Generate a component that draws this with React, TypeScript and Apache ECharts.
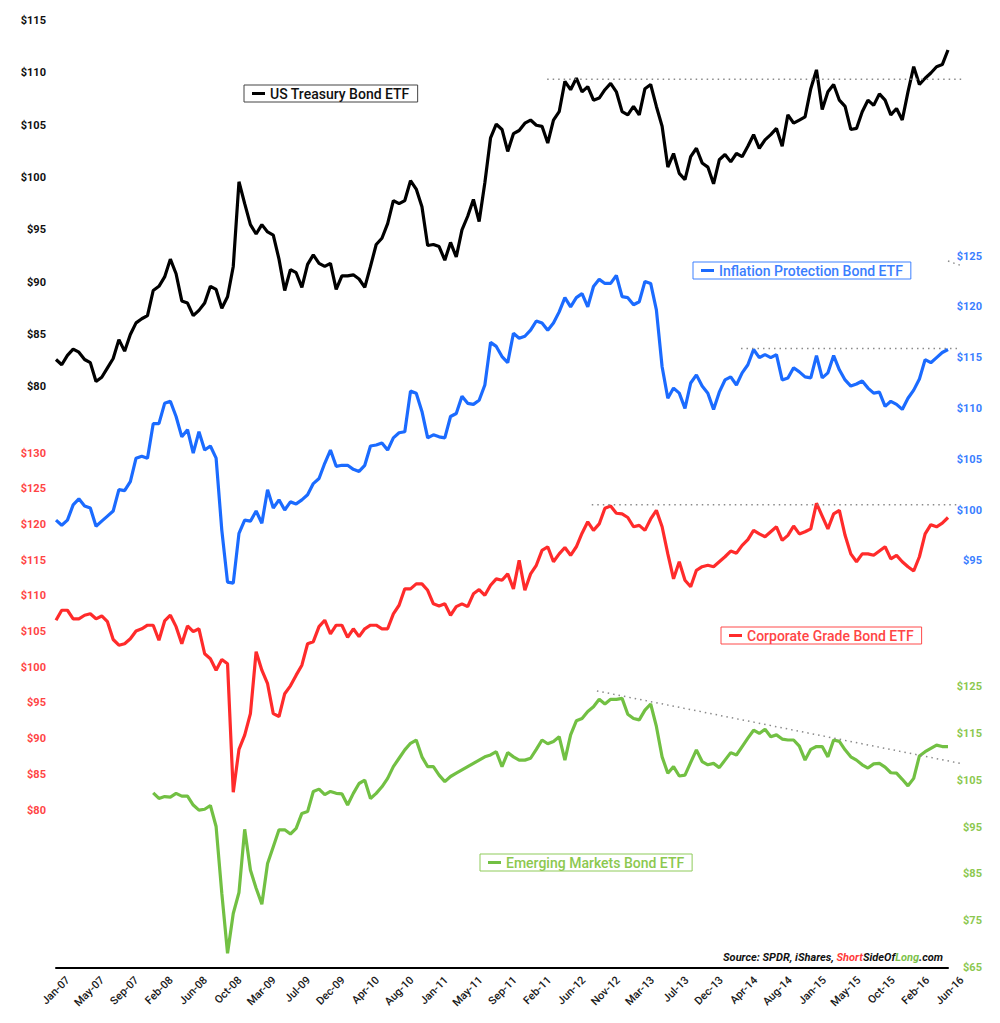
import React, { useEffect, useRef } from 'react';
import * as echarts from 'echarts';

const tickLabels = ['Jan-07','May-07','Sep-07','Feb-08','Jun-08','Oct-08','Mar-09','Jul-09','Dec-09','Apr-10','Aug-10','Jan-11','May-11','Sep-11','Feb-11','Jun-12','Nov-12','Mar-13','Jul-13','Dec-13','Apr-14','Aug-14','Jan-15','May-15','Oct-15','Feb-16','Jun-16'];

const treasury = [
  82.6, 82.1, 83.0, 83.6, 83.3, 82.6, 82.3, 80.5, 80.9, 81.8,
  82.7, 84.5, 83.4, 85.0, 86.1, 86.5, 86.8, 89.2, 89.6, 90.5,
  92.2, 90.8, 88.2, 88.0, 86.8, 87.3, 88.0, 89.6, 89.3, 87.5,
  88.6, 91.5, 99.6, 97.5, 95.5, 94.6, 95.5, 94.8, 94.5, 92.2,
  89.2, 91.2, 90.9, 89.5, 91.7, 92.6, 91.8, 91.5, 91.8, 89.3,
  90.6, 90.6, 90.7, 90.3, 89.5, 91.5, 93.6, 94.2, 95.6, 97.8,
  97.5, 97.8, 99.7, 98.9, 97.2, 93.5, 93.6, 93.4, 92.1, 93.8,
  92.4, 95.0, 96.3, 97.9, 95.8, 99.5, 103.8, 105.1, 104.6, 102.5,
  104.2, 104.5, 105.2, 105.5, 105.0, 104.9, 103.3, 105.5, 106.3, 109.2,
  108.4, 109.5, 108.2, 108.7, 107.4, 107.6, 108.4, 109.0, 108.2, 106.3,
  106.0, 106.8, 106.0, 108.5, 108.9, 106.8, 104.9, 101.0, 102.3, 100.4,
  99.8, 102.0, 102.8, 101.4, 101.0, 99.4, 101.7, 102.2, 101.5, 102.3,
  102.0, 103.0, 104.1, 102.8, 103.6, 104.1, 104.7, 103.0, 106.0, 105.2,
  105.5, 105.8, 108.5, 110.3, 106.5, 108.2, 108.9, 107.4, 106.8, 104.6,
  104.7, 106.3, 107.4, 106.9, 108.0, 107.4, 106.0, 106.6, 105.5, 108.2,
  110.6, 108.9, 109.5, 110.0, 110.6, 110.8, 112.2
];

const inflation = [
  99.0, 98.5, 99.0, 100.5, 101.1, 100.4, 100.2, 98.4, 98.9, 99.4,
  99.9, 102.0, 101.9, 102.8, 105.1, 105.3, 105.1, 108.5, 108.5, 110.5,
  110.7, 109.2, 107.2, 107.9, 105.6, 107.7, 105.9, 106.3, 105.1, 98.0,
  92.9, 92.8, 97.7, 99.0, 98.9, 99.9, 98.7, 102.0, 100.2, 101.0,
  100.0, 100.8, 100.6, 101.0, 101.5, 102.6, 103.1, 104.6, 105.9, 104.3,
  104.4, 104.4, 104.0, 103.8, 104.4, 106.3, 106.4, 106.6, 105.9, 107.1,
  107.6, 107.7, 111.7, 111.5, 109.7, 107.1, 107.4, 107.2, 107.1, 109.2,
  109.5, 111.2, 110.5, 110.4, 110.8, 112.3, 116.5, 116.1, 115.1, 114.5,
  117.4, 116.9, 117.1, 117.7, 118.6, 118.4, 117.7, 118.4, 119.5, 120.9,
  120.0, 120.9, 121.3, 120.0, 122.0, 122.7, 122.3, 122.3, 123.1, 121.0,
  120.9, 120.2, 120.5, 122.5, 122.3, 119.7, 114.1, 111.0, 112.0, 111.5,
  110.0, 112.5, 113.3, 112.2, 111.5, 109.9, 111.6, 112.8, 113.1, 112.3,
  113.5, 114.3, 115.8, 115.0, 115.3, 115.0, 115.3, 112.8, 113.0, 114.0,
  113.6, 113.1, 113.0, 115.2, 113.0, 113.5, 115.2, 113.8, 112.8, 112.2,
  112.4, 112.7, 112.0, 111.5, 111.6, 110.2, 110.7, 110.4, 109.9, 111.0,
  111.8, 112.9, 114.8, 114.5, 115.0, 115.5, 115.8
];

const corporate = [
  106.6, 108.0, 108.0, 106.8, 106.8, 107.3, 107.5, 106.8, 107.2, 106.4,
  103.9, 103.1, 103.3, 104.0, 105.1, 105.4, 105.9, 105.9, 103.8, 106.5,
  107.3, 105.7, 103.3, 105.8, 105.0, 105.4, 101.9, 101.2, 99.6, 101.1,
  100.5, 82.5, 88.5, 90.5, 93.5, 102.2, 99.6, 97.7, 93.5, 93.1,
  96.3, 97.4, 98.9, 100.3, 103.3, 103.6, 105.7, 106.6, 104.7, 105.9,
  105.9, 104.2, 105.4, 104.3, 105.4, 105.9, 105.9, 105.4, 105.4, 107.5,
  108.7, 111.0, 111.0, 111.7, 111.7, 110.8, 108.9, 108.6, 108.9, 107.3,
  108.5, 108.9, 108.5, 110.3, 110.9, 110.1, 111.5, 112.4, 112.2, 113.1,
  111.0, 115.0, 110.8, 113.1, 114.3, 116.4, 116.9, 114.8, 115.9, 116.8,
  115.7, 116.9, 118.8, 120.4, 119.2, 120.1, 122.3, 122.6, 121.6, 121.5,
  121.0, 119.7, 119.9, 119.2, 120.8, 122.0, 119.7, 115.9, 112.4, 114.8,
  112.2, 111.3, 113.6, 114.1, 114.3, 114.1, 114.8, 115.5, 116.3, 116.0,
  117.1, 117.9, 119.2, 118.7, 118.3, 119.0, 119.7, 117.8, 118.5, 119.8,
  118.7, 119.0, 119.4, 123.0, 121.2, 119.4, 121.5, 122.0, 118.5, 115.9,
  114.8, 115.9, 115.9, 115.7, 116.3, 116.9, 115.2, 115.7, 114.8, 114.1,
  113.5, 115.5, 118.7, 120.0, 119.7, 120.2, 121.0
];

const emerging = [
  null, null, null, null, null, null, null, null, null, null,
  null, null, null, null, null, null, null, 102.3, 101.1, 101.5,
  101.4, 102.2, 101.6, 101.6, 99.7, 98.6, 98.8, 99.6, 95.1, 80.8,
  68.0, 76.5, 81.0, 94.5, 85.8, 81.9, 78.5, 87.2, 90.8, 94.4,
  94.4, 93.5, 94.7, 97.9, 98.3, 102.6, 103.1, 101.9, 102.6, 102.2,
  102.1, 99.7, 102.2, 104.3, 105.0, 101.1, 102.2, 103.6, 105.4, 107.9,
  109.7, 111.5, 112.9, 113.6, 110.0, 107.9, 107.9, 106.1, 104.7, 105.8,
  106.5, 107.2, 107.9, 108.6, 109.3, 110.0, 110.4, 111.1, 107.9, 110.9,
  110.0, 109.3, 109.3, 109.7, 111.6, 113.6, 112.8, 113.3, 114.3, 109.3,
  114.7, 117.7, 118.2, 119.7, 120.7, 122.3, 121.3, 122.3, 122.3, 122.5,
  119.1, 118.2, 117.9, 120.0, 121.3, 116.5, 110.0, 106.5, 107.9, 105.9,
  106.1, 108.8, 111.5, 109.0, 108.3, 108.6, 107.7, 109.3, 110.9, 110.4,
  112.2, 114.0, 115.7, 115.0, 115.9, 114.3, 114.7, 113.8, 113.6, 113.6,
  112.3, 109.3, 111.6, 112.2, 112.2, 110.0, 113.6, 113.3, 111.5, 110.0,
  109.3, 108.3, 107.6, 108.5, 108.6, 107.8, 106.6, 106.5, 105.2, 103.8,
  105.4, 110.2, 111.1, 111.8, 112.5, 112.2, 112.2
];

// annotation lines: [axis group, start index, end index, start value, end value]
const levelLines: [number, number, number, number, number][] = [
  [0, 85.9, 158.6, 109.4, 109.4],
  [1, 119.8, 157.6, 115.9, 115.9],
  [1, 156.0, 158.6, 124.5, 124.0],
  [2, 93.7, 157.7, 122.8, 122.8],
  [3, 94.6, 158.6, 124.1, 108.5],
];

const names = ['US Treasury Bond ETF', 'Inflation Protection Bond ETF', 'Corporate Grade Bond ETF', 'Emerging Markets Bond ETF'];

const LINE_COLORS = ['#000000', '#1b6bff', '#ff2b2b', '#72c043'];
const LABEL_COLORS = ['#111111', '#3a7eff', '#ff4545', '#8cc84f'];
const BORDER_COLORS = ['#444444', '#3d80ff', '#ff4a4a', '#8fcb5a'];
const FONT = 'Roboto, "Liberation Sans", sans-serif';
const STEP = 6;

export default function App() {
  const ref = useRef<HTMLDivElement>(null);

  useEffect(() => {
    const chart = echarts.init(ref.current!, null, { renderer: 'svg' });
    const N = treasury.length;
    const categories = treasury.map((_, i) => String(i));
    const L = 56, R = 52;
    const grids = [
      { left: L, right: R, top: 20.7, height: 366 },
      { left: L, right: R, top: 256, height: 355.6 },
      { left: L, right: R, top: 453.3, height: 356.7 },
      { left: L, right: R, top: 686.7, height: 280.6 },
      { left: 68, right: 38, top: 900, height: 67.3 },
    ];
    const hiddenX = (g: number) => ({
      type: 'category', gridIndex: g, data: categories, boundaryGap: false, show: false,
    });
    const yLabel = (color: string, extra: any = {}) => ({
      color, fontFamily: FONT, fontSize: 11, fontWeight: 'bold', ...extra,
    });
    const series = [treasury, inflation, corporate, emerging].map((d, i) => ({
      name: names[i], type: 'line', xAxisIndex: i, yAxisIndex: i, data: d,
      showSymbol: false, symbol: 'none', connectNulls: false,
      lineStyle: { color: LINE_COLORS[i], width: 3.2 }, itemStyle: { color: LINE_COLORS[i] },
      z: 3,
    }));
    const legendPos = [
      { left: 244, top: 85 },
      { left: 693, top: 262 },
      { left: 721, top: 627 },
      { left: 480, top: 854 },
    ];
    const legends = names.map((n, i) => ({
      data: [n], ...legendPos[i], orient: 'horizontal', selectedMode: false,
      icon: 'rect', itemWidth: 13, itemHeight: 3,
      borderColor: BORDER_COLORS[i], borderWidth: 1, borderRadius: 0,
      padding: [1, 8, 1, 8], backgroundColor: '#fff',
      textStyle: { color: LABEL_COLORS[i], fontFamily: FONT, fontSize: 14, fontWeight: 500, lineHeight: 15 },
    }));

    chart.setOption({
      animation: false,
      backgroundColor: '#ffffff',
      grid: grids,
      legend: legends,
      xAxis: [
        hiddenX(0), hiddenX(1), hiddenX(2),
        {
          type: 'category', gridIndex: 3, data: categories, boundaryGap: false,
          axisLine: { show: true, lineStyle: { color: '#000', width: 2 } },
          axisTick: { show: false }, axisLabel: { show: false }, splitLine: { show: false },
        },
        {
          type: 'category', gridIndex: 4, data: categories, boundaryGap: false,
          axisLine: { show: false }, axisTick: { show: false }, splitLine: { show: false },
          axisLabel: {
            interval: STEP - 1, rotate: 45, margin: 11, color: '#1a1a1a', fontFamily: FONT,
            fontSize: 11, fontWeight: 500,
            formatter: (_v: string, idx: number) => (idx % STEP === 0 ? tickLabels[idx / STEP] : ''),
          },
        },
      ],
      yAxis: [
        {
          type: 'value', gridIndex: 0, position: 'left', min: 80, max: 115, interval: 5,
          axisLine: { show: false }, axisTick: { show: false }, splitLine: { show: false },
          axisLabel: yLabel(LABEL_COLORS[0], { margin: 10, formatter: (v: number) => '$' + v }),
        },
        {
          type: 'value', gridIndex: 1, position: 'right', min: 90, max: 125, interval: 5,
          axisLine: { show: false }, axisTick: { show: false }, splitLine: { show: false },
          axisLabel: yLabel(LABEL_COLORS[1], { margin: 34, align: 'right', formatter: (v: number) => (v < 95 ? '' : '$' + v) }),
        },
        {
          type: 'value', gridIndex: 2, position: 'left', min: 80, max: 130, interval: 5,
          axisLine: { show: false }, axisTick: { show: false }, splitLine: { show: false },
          axisLabel: yLabel(LABEL_COLORS[2], { margin: 10, formatter: (v: number) => '$' + v }),
        },
        {
          type: 'value', gridIndex: 3, position: 'right', min: 65, max: 125, interval: 10,
          axisLine: { show: false }, axisTick: { show: false }, splitLine: { show: false },
          axisLabel: yLabel(LABEL_COLORS[3], { margin: 34, align: 'right', formatter: (v: number) => '$' + v }),
        },
        {
          type: 'value', gridIndex: 4, min: 0, max: 1, show: false,
        },
      ],
      series,
    });

    const lines = levelLines.map(([g, i1, i2, v1, v2]) => {
      const x0 = chart.convertToPixel({ xAxisIndex: g } as any, 0) as number;
      const xN = chart.convertToPixel({ xAxisIndex: g } as any, N - 1) as number;
      const xAt = (i: number) => x0 + ((xN - x0) * i) / (N - 1);
      const y1 = chart.convertToPixel({ yAxisIndex: g } as any, v1) as number;
      const y2 = chart.convertToPixel({ yAxisIndex: g } as any, v2) as number;
      return {
        type: 'line', silent: true, z: 10,
        shape: { x1: xAt(i1), y1, x2: xAt(i2), y2 },
        style: { stroke: '#8a8a8a', lineWidth: 1.5, lineDash: [1.5, 4] },
      };
    });

    chart.setOption({
      graphic: [
        ...lines,
        {
          type: 'text', x: 943, y: 957, silent: true, z: 10,
          style: {
            text: '{a|Source: SPDR, iShares, }{r|Short}{a|SideOf}{g|Long}{a|.com}',
            align: 'right', verticalAlign: 'middle',
            rich: {
              a: { fill: '#111', fontStyle: 'italic', fontWeight: 'bold', fontSize: 11, fontFamily: FONT },
              r: { fill: '#ff3a3a', fontStyle: 'italic', fontWeight: 'bold', fontSize: 11, fontFamily: FONT },
              g: { fill: '#7cc24a', fontStyle: 'italic', fontWeight: 'bold', fontSize: 11, fontFamily: FONT },
            },
          },
        },
      ],
    });

    return () => chart.dispose();
  }, []);

  return (
    <div
      ref={ref}
      style={{ position: 'absolute', left: 0, top: 0, width: 1000, height: 1023, background: '#fff' }}
    />
  );
}
